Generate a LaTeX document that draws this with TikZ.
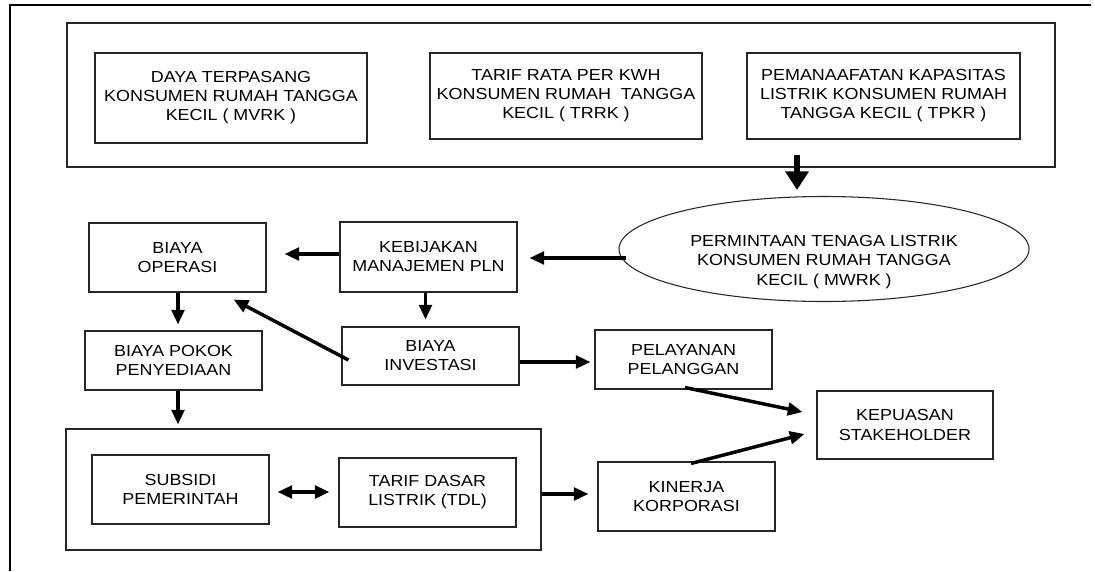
\documentclass[tikz,border=0pt]{standalone}
\usepackage{fontspec}
\setmainfont{Liberation Sans}[FakeStretch=1.12]
\usepackage{tikz}
\usetikzlibrary{arrows.meta,shapes.geometric,positioning}

\begin{document}
\begin{tikzpicture}[x=0.75pt,y=-0.75pt,>=Triangle,
  font=\fontsize{12}{14.3}\selectfont,
  sz/.style 2 args={minimum width=#1*0.75pt,minimum height=#2*0.75pt},
  box/.style={draw=black!85,line width=0.8pt,align=center,inner sep=0pt},
  grp/.style={draw=black!85,line width=0.8pt,inner sep=0pt},
  arr/.style={->,line width=2.6pt,>={Triangle[length=11pt,width=9.5pt]}},
  bigarr/.style={->,line width=5pt,>={Triangle[length=14pt,width=17pt]}}]
\useasboundingbox (0,0) rectangle (1095,571);
\draw[line width=1.6pt] (10,571) -- (10,5) -- (1091,5);
% input group
\node[grp,sz={988}{144}] (grpTop) at (561,95) {};
\node[box,sz={272}{90}] (daya) at (231,98)
  {DAYA TERPASANG\\KONSUMEN RUMAH TANGGA\\KECIL ( MVRK )};
\node[box,sz={272}{86}] (tarif) at (566,96)
  {TARIF RATA PER KWH\\KONSUMEN RUMAH\ \ TANGGA\\KECIL ( TRRK )};
\node[box,sz={273}{86}] (pman) at (883.5,96)
  {PEMANAAFATAN KAPASITAS\\LISTRIK KONSUMEN RUMAH\\TANGGA KECIL ( TPKR )};
\node[ellipse,draw=black!85,line width=0.8pt,sz={410}{105}] (mwrk) at (824,249) {};
\node[align=center] (mwrkTxt) at (824,262)
  {PERMINTAAN TENAGA LISTRIK\\KONSUMEN RUMAH TANGGA\\KECIL ( MWRK )};
\coordinate (dn) at (797,155);
% middle part
\node[box,sz={177}{69}] (oper) at (177.5,257.5) {BIAYA\\OPERASI};
\node[box,sz={177}{70}] (kebij) at (428.5,257) {KEBIJAKAN\\MANAJEMEN PLN};
\node[box,sz={177}{59}] (pokok) at (173.5,360.5) {BIAYA POKOK\\PENYEDIAAN};
\node[box,sz={177}{58}] (inves) at (430.5,356) {BIAYA\\INVESTASI};
\node[box,sz={177}{59}] (pelay) at (683.5,359.5) {PELAYANAN\\PELANGGAN};
\node[box,sz={176}{68}] (puas) at (905,425) {KEPUASAN\\STAKEHOLDER};
\node[box,sz={177}{69}] (kinerja) at (686.5,496.5) {KINERJA\\KORPORASI};
% tariff group
\node[grp,sz={475}{121}] (grpBot) at (303.5,489.5) {};
\node[box,sz={177}{69}] (subsidi) at (180.5,489.5) {SUBSIDI\\PEMERINTAH};
\node[box,sz={177}{69}] (tdl) at (427.5,492.5) {TARIF DASAR\\LISTRIK (TDL)};
% arrows
\draw[bigarr] (dn) -- ([shift={(0,-6)}]mwrk.north -| dn);
\draw[arr] ([shift={(8,9)}]mwrk.west) -- ([shift={(12,1)}]kebij.east);
\draw[arr] ([shift={(0,-3)}]kebij.west) -- ([shift={(18,-3.5)}]oper.east);
\draw[arr] ([shift={(0.5,0)}]oper.south) -- ([shift={(0.5,-6)}]oper.south |- pokok.north);
\draw[arr] ([shift={(-3,0)}]kebij.south) -- ([shift={(-5,-7)}]inves.north);
\draw[arr] ([shift={(7,4)}]inves.west) -- ([shift={(-33,7)}]oper.south east);
\draw[arr] ([shift={(0,6)}]inves.east) -- ([shift={(-4,2.5)}]pelay.west);
\draw[arr] ([shift={(4.5,0)}]pokok.south) -- ([shift={(4.5,-4)}]pokok.south |- grpBot.north);
\draw[<->,line width=2.6pt,>={Triangle[length=11pt,width=9.5pt]}]
  ([shift={(8,2.5)}]subsidi.east) -- ([shift={(-9,-0.5)}]tdl.west);
\draw[arr] ([shift={(0,4.5)}]grpBot.east) -- ([shift={(-9,-2.5)}]kinerja.west);
\draw[arr] ([shift={(1.5,-2)}]pelay.south) -- ([shift={(-14,-13)}]puas.west);
\draw[arr] ([shift={(4.5,2)}]kinerja.north) -- ([shift={(-12,9)}]puas.west);
\end{tikzpicture}
\end{document}
